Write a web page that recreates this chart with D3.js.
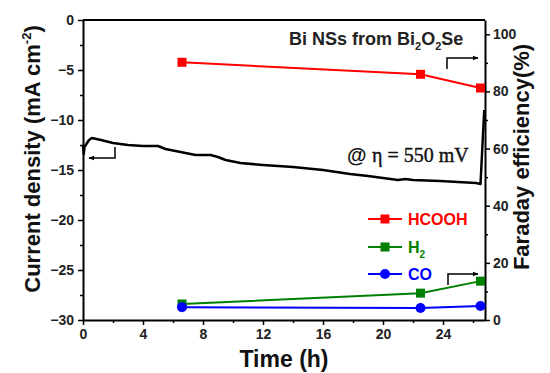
<!DOCTYPE html>
<html>
<head>
<meta charset="utf-8">
<script src="https://cdn.jsdelivr.net/npm/d3@7"></script>
<style>
  html, body { margin: 0; padding: 0; background: #fff; }
  svg { display: block; }
  text { font-family: "Liberation Sans", Arial, sans-serif; font-weight: bold; }
</style>
</head>
<body>
<svg id="chart" width="550" height="373"></svg>
<script>
// Chronoamperometry trace: time (h) and current density (mA cm^-2)
const traceTime = [0, 0.05, 0.1, 0.4, 0.6, 1.2, 2.0, 3.0, 4.0, 5.0, 5.5, 6.5, 7.5, 8.5, 9.0, 9.5, 10.5, 12, 14, 16, 17.8, 19, 20, 21, 21.5, 22, 23.8, 25, 26.2, 26.5, 26.75];
const traceCurrent = [-12.6, -13.4, -12.7, -12.0, -11.8, -12.0, -12.3, -12.5, -12.6, -12.6, -12.9, -13.2, -13.5, -13.5, -13.7, -14.0, -14.3, -14.5, -14.7, -15.0, -15.4, -15.6, -15.8, -16.0, -15.9, -16.0, -16.1, -16.2, -16.3, -16.4, -9.0];

// Faradaic efficiency sampling times (h) and values (%)
const feTime = [6.6, 22.5, 26.5];
const feHCOOH = [90.2, 86.0, 81.2];
const feH2 = [5.6, 9.4, 13.6];
const feCO = [4.5, 4.2, 4.9];

// Axis ticks
const xTicks = [0, 4, 8, 12, 16, 20, 24];
const yLeftTicks = [0, -5, -10, -15, -20, -25, -30];
const yRightTicks = [0, 20, 40, 60, 80, 100];

const svg = d3.select("#chart");
const m = { left: 83, right: 485, top: 20, bottom: 320 };

const x = d3.scaleLinear().domain([0, 26.8]).range([m.left, m.right]);
const yL = d3.scaleLinear().domain([-30, 0]).range([m.bottom, m.top]);
const yR = d3.scaleLinear().domain([0, 105]).range([m.bottom, m.top]);

// Top border
svg.append("line").attr("x1", m.left).attr("x2", m.right).attr("y1", m.top).attr("y2", m.top)
  .attr("stroke", "#000").attr("stroke-width", 2);

function styleAxis(g) {
  g.select(".domain").attr("stroke-width", 2);
  g.selectAll(".tick line").attr("stroke-width", 1.5);
  g.selectAll(".tick text").attr("font-size", 14).attr("font-weight", "bold")
    .attr("font-family", "Liberation Sans, Arial, sans-serif").attr("fill", "#222");
}

// minor ticks halfway between majors
function minorTicks(vals) {
  const out = [];
  for (let i = 0; i < vals.length - 1; i++) out.push((vals[i] + vals[i + 1]) / 2);
  return out;
}
function minorStyle(g) {
  g.select(".domain").remove();
  g.selectAll(".tick line").attr("stroke-width", 1.5);
}

svg.append("g").attr("transform", `translate(0,${m.bottom})`)
  .call(d3.axisBottom(x).tickValues(minorTicks(xTicks).concat([26])).tickSize(3).tickFormat(""))
  .call(minorStyle);
svg.append("g").attr("transform", `translate(0,${m.bottom})`)
  .call(d3.axisBottom(x).tickValues(xTicks).tickSize(5).tickPadding(4).tickSizeOuter(0))
  .call(styleAxis);

svg.append("g").attr("transform", `translate(${m.left},0)`)
  .call(d3.axisLeft(yL).tickValues(minorTicks(yLeftTicks)).tickSize(3).tickFormat(""))
  .call(minorStyle);
svg.append("g").attr("transform", `translate(${m.left},0)`)
  .call(d3.axisLeft(yL).tickValues(yLeftTicks).tickSize(5).tickPadding(4).tickSizeOuter(0))
  .call(styleAxis);

svg.append("g").attr("transform", `translate(${m.right},0)`)
  .call(d3.axisRight(yR).tickValues(minorTicks(yRightTicks)).tickSize(3).tickFormat(""))
  .call(minorStyle);
svg.append("g").attr("transform", `translate(${m.right},0)`)
  .call(d3.axisRight(yR).tickValues(yRightTicks).tickSize(5).tickPadding(3).tickSizeOuter(0))
  .call(styleAxis);

// Current trace
const trace = traceTime.map((t, i) => [t, traceCurrent[i]]);
svg.append("path").datum(trace)
  .attr("fill", "none").attr("stroke", "#000").attr("stroke-width", 2.5).attr("stroke-linejoin", "round")
  .attr("d", d3.line().x(d => x(d[0])).y(d => yL(d[1])));

// Faradaic efficiency series
const series = [
  { name: "HCOOH", vals: feHCOOH, color: "#ff0000", shape: "square" },
  { name: "H2", vals: feH2, color: "#008000", shape: "square" },
  { name: "CO", vals: feCO, color: "#0000ff", shape: "circle" }
];

function drawMarker(g, cx, cy, s) {
  if (s.shape === "square") {
    g.append("rect").attr("x", cx - 4.5).attr("y", cy - 4.5).attr("width", 9).attr("height", 9).attr("fill", s.color);
  } else {
    g.append("circle").attr("cx", cx).attr("cy", cy).attr("r", 5).attr("fill", s.color);
  }
}

series.forEach(s => {
  const pts = feTime.map((t, i) => [t, s.vals[i]]);
  svg.append("path").datum(pts)
    .attr("fill", "none").attr("stroke", s.color).attr("stroke-width", 2)
    .attr("d", d3.line().x(d => x(d[0])).y(d => yR(d[1])));
  const g = svg.append("g");
  pts.forEach(p => drawMarker(g, x(p[0]), yR(p[1]), s));
});

// Legend
const legendY = [219, 247, 274];
series.forEach((s, i) => {
  const g = svg.append("g");
  g.append("line").attr("x1", 368).attr("x2", 402).attr("y1", legendY[i]).attr("y2", legendY[i])
    .attr("stroke", s.color).attr("stroke-width", 2);
  drawMarker(g, 385, legendY[i], s);
  const t = g.append("text").attr("x", 408).attr("y", legendY[i] + 6).attr("font-size", 16).attr("fill", s.color);
  if (s.name === "H2") {
    t.append("tspan").text("H");
    t.append("tspan").attr("font-size", 10).attr("dy", 5).text("2");
  } else {
    t.text(s.name);
  }
});

// Annotations
const title = svg.append("text").attr("x", 289).attr("y", 45).attr("font-size", 18).attr("fill", "#222");
title.append("tspan").text("Bi NSs from Bi");
title.append("tspan").attr("font-size", 11).attr("dy", 5).text("2");
title.append("tspan").attr("dy", -5).text("O");
title.append("tspan").attr("font-size", 11).attr("dy", 5).text("2");
title.append("tspan").attr("dy", -5).text("Se");

const eta = svg.append("text").attr("x", 347).attr("y", 162).attr("font-size", 20).attr("fill", "#111");
eta.append("tspan").text("@ ");
eta.append("tspan").attr("font-family", "Liberation Serif, Times New Roman, serif").attr("font-weight", "normal")
  .attr("stroke", "#111").attr("stroke-width", 0.4).text("\u03B7 = 550 mV");

// Axis direction arrows
svg.append("defs").append("marker").attr("id", "arrow").attr("viewBox", "0 0 10 10")
  .attr("refX", 9).attr("refY", 5).attr("markerWidth", 6).attr("markerHeight", 6)
  .attr("markerUnits", "userSpaceOnUse").attr("orient", "auto")
  .append("path").attr("d", "M0,1 L10,5 L0,9 Z").attr("fill", "#000");

function bracketArrow(x0, yTop, yBot, x1) {
  svg.append("path").attr("d", `M${x0},${yBot} L${x0},${yTop} L${x1},${yTop}`)
    .attr("fill", "none").attr("stroke", "#000").attr("stroke-width", 1.5).attr("marker-end", "url(#arrow)");
}
bracketArrow(447, 58, 69, 478);
bracketArrow(448, 274, 285, 478);
// left-pointing arrow for the current trace
svg.append("path").attr("d", `M115,147 L115,158 L89,158`)
  .attr("fill", "none").attr("stroke", "#000").attr("stroke-width", 1.5).attr("marker-end", "url(#arrow)");

// Axis titles
svg.append("text").attr("x", 284).attr("y", 367).attr("text-anchor", "middle").attr("font-size", 23).attr("fill", "#111")
  .text("Time (h)");

const yl = svg.append("text").attr("transform", "translate(40,159) rotate(-90)").attr("text-anchor", "middle")
  .attr("font-size", 22).attr("fill", "#111");
yl.append("tspan").text("Current density (mA cm");
yl.append("tspan").attr("font-size", 13).attr("dy", -9).text("-2");
yl.append("tspan").attr("dy", 9).text(")");

svg.append("text").attr("transform", "translate(529,157) rotate(-90)").attr("text-anchor", "middle")
  .attr("font-size", 22).attr("fill", "#111").text("Faraday efficiency(%)");
</script>
</body>
</html>
